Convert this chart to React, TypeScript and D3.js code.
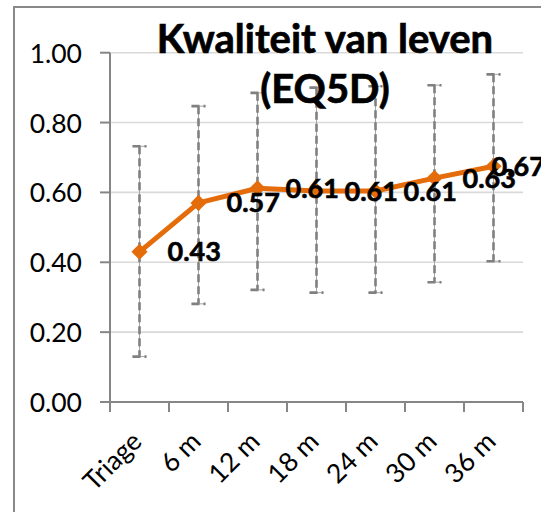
import React from "react";
import * as d3 from "d3";

const categories = ["Triage", "6 m", "12 m", "18 m", "24 m", "30 m", "36 m"];
const means = [0.43, 0.57, 0.612, 0.604, 0.604, 0.641, 0.675];
const meanLabels = ["0.43", "0.57", "0.61", "0.61", "0.61", "0.63", "0.67"];
const upper = [0.732, 0.847, 0.885, 0.9, 0.904, 0.907, 0.938];
const lower = [0.13, 0.281, 0.321, 0.313, 0.313, 0.343, 0.403];
const yTicks = [0, 0.2, 0.4, 0.6, 0.8, 1.0];
const titleLines = ["Kwaliteit van leven", "(EQ5D)"];

const W = 541;
const H = 512;
const plot = { left: 110, right: 523, top: 52.7, bottom: 402 };
const FONT = "Lato, 'Open Sans', sans-serif";
const ORANGE = "#E46C0A";
const AXIS = "#868686";

export default function App() {
  const x = d3.scaleBand<string>().domain(categories).range([plot.left, plot.right]);
  const y = d3.scaleLinear().domain([0, 1]).range([plot.bottom, plot.top]);
  const cx = (c: string) => (x(c) as number) + x.bandwidth() / 2;

  const line = d3
    .line<number>()
    .x((_, i) => cx(categories[i]))
    .y((d) => y(d));

  const diamond = d3.symbol().type(d3.symbolSquare).size(130)();

  const boundaries = categories.map((c) => x(c) as number).concat([plot.right]);

  const errPath = (i: number) => {
    const xc = cx(categories[i]);
    const t = y(upper[i]);
    const b = y(lower[i]);
    return `M${xc - 7},${t}H${xc + 7}M${xc},${t}V${b}M${xc - 7},${b}H${xc + 7}`;
  };

  return (
    <svg
      width={W}
      height={H}
      style={{ position: "absolute", left: 0, top: 0, background: "#fff" }}
    >
      <rect x={0} y={0} width={W} height={H} fill="#fff" />
      <rect x={14} y={7} width={W + 20} height={H + 20} fill="none" stroke="#898989" strokeWidth={2} />

      {/* gridlines */}
      {yTicks
        .filter((t) => t > 0)
        .map((t) => (
          <line key={t} x1={plot.left} x2={plot.right} y1={y(t)} y2={y(t)} stroke="#d9d9d9" strokeWidth={1.6} />
        ))}

      {/* y axis */}
      <line x1={plot.left} x2={plot.left} y1={plot.top} y2={plot.bottom} stroke={AXIS} strokeWidth={2} />
      {yTicks.map((t) => (
        <g key={t}>
          <line x1={plot.left - 10} x2={plot.left} y1={y(t)} y2={y(t)} stroke={AXIS} strokeWidth={2} />
          <text x={82} y={y(t) + 10} textAnchor="end" fontFamily={FONT} fontSize={26.5} fill="#000">
            {d3.format(".2f")(t)}
          </text>
        </g>
      ))}

      {/* x axis */}
      <line x1={plot.left} x2={plot.right} y1={plot.bottom} y2={plot.bottom} stroke={AXIS} strokeWidth={2} />
      {boundaries.map((bx, i) => (
        <line key={i} x1={bx} x2={bx} y1={plot.bottom} y2={plot.bottom + 10} stroke={AXIS} strokeWidth={2} />
      ))}
      {categories.map((c) => (
        <text
          key={c}
          transform={`translate(${cx(c) + 4},${plot.bottom + 41}) rotate(-45)`}
          textAnchor="end"
          fontFamily={FONT}
          fontSize={26.5}
          fill="#000"
        >
          {c}
        </text>
      ))}

      {/* error bars */}
      {categories.map((c, i) => (
        <g key={c}>
          <path d={errPath(i)} fill="none" stroke="#a6a6a6" strokeWidth={1} />
          <path d={errPath(i)} fill="none" stroke="#808080" strokeWidth={2.6} strokeDasharray="8,4" />
        </g>
      ))}

      {/* line */}
      <path d={line(means) || ""} fill="none" stroke={ORANGE} strokeWidth={5} strokeLinejoin="round" />
      {means.map((m, i) => (
        <path
          key={i}
          d={diamond || ""}
          transform={`translate(${cx(categories[i])},${y(m)}) rotate(45)`}
          fill={ORANGE}
        />
      ))}

      {/* data labels */}
      {means.map((m, i) => {
        const px = cx(categories[i]);
        const last = i === means.length - 1;
        return (
          <text
            key={i}
            x={last ? px - 2 : px + 28}
            y={y(m) + 9.5}
            fontFamily={FONT}
            fontWeight="bold"
            fontSize={27}
            fill="#000"
            stroke="#000"
            strokeWidth={0.6}
          >
            {meanLabels[i]}
          </text>
        );
      })}

      {/* title */}
      {titleLines.map((t, i) => (
        <text
          key={t}
          x={325}
          y={53 + i * 50}
          textAnchor="middle"
          fontFamily={FONT}
          fontWeight="bold"
          fontSize={40}
          fill="#000"
          stroke="#000"
          strokeWidth={0.7}
        >
          {t}
        </text>
      ))}
    </svg>
  );
}
